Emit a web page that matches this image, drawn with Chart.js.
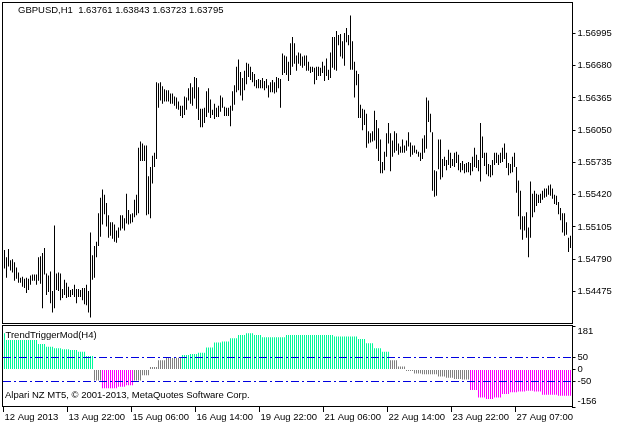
<!DOCTYPE html>
<html>
<head>
<meta charset="utf-8">
<script src="https://cdn.jsdelivr.net/npm/chart.js@4.4.1/dist/chart.umd.min.js"></script>
<style>
  html, body { margin: 0; padding: 0; background: #fff; }
  #wrap { position: relative; width: 621px; height: 423px; }
  #priceChart { position: absolute; left: 0; top: 0; }
  #trendChart { position: absolute; left: 0; top: 324px; }
</style>
</head>
<body>
<div id="wrap">
  <canvas id="priceChart" width="621" height="324"></canvas>
  <canvas id="trendChart" width="621" height="99"></canvas>
</div>
<script>
// GBPUSD H1 bars, left to right (high / low)
var highs = [
  1.5488, 1.5481, 1.5489, 1.5478, 1.5479, 1.5476, 1.5471, 1.5466, 1.5461, 1.5462, 1.5460, 1.5461,
  1.5460, 1.5463, 1.5464, 1.5464, 1.5464, 1.5481, 1.5482, 1.5485, 1.5490, 1.5465, 1.5463, 1.5467,
  1.5448, 1.5512, 1.5465, 1.5466, 1.5465, 1.5450, 1.5459, 1.5456, 1.5452, 1.5449, 1.5450, 1.5454,
  1.5450, 1.5450, 1.5449, 1.5451, 1.5451, 1.5454, 1.5448, 1.5505, 1.5483, 1.5492, 1.5496, 1.5524,
  1.5539, 1.5547, 1.5542, 1.5534, 1.5522, 1.5515, 1.5515, 1.5513, 1.5507, 1.5510, 1.5522, 1.5522,
  1.5519, 1.5543, 1.5527, 1.5523, 1.5524, 1.5537, 1.5542, 1.5588, 1.5594, 1.5592, 1.5590, 1.5590,
  1.5560, 1.5569, 1.5580, 1.5583, 1.5652, 1.5651, 1.5652, 1.5648, 1.5645, 1.5644, 1.5644, 1.5641,
  1.5641, 1.5638, 1.5637, 1.5633, 1.5629, 1.5629, 1.5638, 1.5637, 1.5646, 1.5651, 1.5647,
  1.5657, 1.5656, 1.5647, 1.5626, 1.5626, 1.5627, 1.5643, 1.5646, 1.5635, 1.5625, 1.5631, 1.5627,
  1.5629, 1.5639, 1.5637, 1.5628, 1.5627, 1.5627, 1.5629, 1.5643, 1.5649, 1.5667, 1.5674, 1.5662,
  1.5656, 1.5663, 1.5671, 1.5670, 1.5667, 1.5662, 1.5660, 1.5654, 1.5655, 1.5654, 1.5656, 1.5653,
  1.5655, 1.5649, 1.5652, 1.5654, 1.5652, 1.5657, 1.5656, 1.5655, 1.5680, 1.5678,
  1.5677, 1.5672, 1.5690, 1.5696, 1.5690, 1.5678, 1.5681, 1.5680, 1.5677, 1.5678, 1.5678, 1.5672,
  1.5667, 1.5667, 1.5666, 1.5667, 1.5667, 1.5666, 1.5672, 1.5668, 1.5675, 1.5664, 1.5681, 1.5696,
  1.5696, 1.5702, 1.5698, 1.5699, 1.5692, 1.5700, 1.5705, 1.5698, 1.5717, 1.5692, 1.5672, 1.5663,
  1.5660, 1.5630, 1.5626, 1.5625, 1.5621, 1.5604, 1.5602, 1.5604, 1.5624, 1.5615,
  1.5607, 1.5596, 1.5574, 1.5584, 1.5602, 1.5612, 1.5602, 1.5595, 1.5604, 1.5602, 1.5592, 1.5589,
  1.5596, 1.5590, 1.5595, 1.5603, 1.5593, 1.5590, 1.5590, 1.5586, 1.5584, 1.5583, 1.5597, 1.5600,
  1.5637, 1.5634, 1.5621, 1.5603, 1.5566, 1.5565, 1.5596, 1.5596, 1.5577, 1.5579, 1.5576, 1.5586,
  1.5583, 1.5577, 1.5583, 1.5584, 1.5581, 1.5573, 1.5575, 1.5572,
  1.5573, 1.5574, 1.5573, 1.5579, 1.5588, 1.5581, 1.5576, 1.5612, 1.5599, 1.5583, 1.5583, 1.5572,
  1.5571, 1.5576, 1.5583, 1.5583, 1.5581, 1.5583, 1.5588, 1.5592, 1.5583, 1.5573, 1.5572, 1.5579,
  1.5583, 1.5569, 1.5556, 1.5546, 1.5521, 1.5521, 1.5525, 1.5510, 1.5555, 1.5543, 1.5546, 1.5543,
  1.5542, 1.5543, 1.5546, 1.5548, 1.5548, 1.5551, 1.5552, 1.5548, 1.5542, 1.5541, 1.5535, 1.5529,
  1.5524, 1.5524, 1.5515, 1.5500, 1.5502
];
var lows = [
  1.5470, 1.5461, 1.5472, 1.5468, 1.5466, 1.5458, 1.5460, 1.5456, 1.5456, 1.5452, 1.5451, 1.5446,
  1.5449, 1.5454, 1.5458, 1.5458, 1.5454, 1.5458, 1.5455, 1.5431, 1.5464, 1.5444, 1.5447, 1.5436,
  1.5427, 1.5431, 1.5449, 1.5448, 1.5439, 1.5441, 1.5444, 1.5441, 1.5442, 1.5442, 1.5444, 1.5442,
  1.5436, 1.5442, 1.5442, 1.5439, 1.5435, 1.5434, 1.5427, 1.5422, 1.5459, 1.5461, 1.5481, 1.5492,
  1.5501, 1.5513, 1.5523, 1.5511, 1.5500, 1.5502, 1.5499, 1.5496, 1.5495, 1.5500, 1.5507, 1.5509,
  1.5507, 1.5514, 1.5513, 1.5514, 1.5515, 1.5520, 1.5522, 1.5524, 1.5575, 1.5575, 1.5575, 1.5522,
  1.5523, 1.5519, 1.5553, 1.5569, 1.5577, 1.5627, 1.5634, 1.5631, 1.5633, 1.5633, 1.5633, 1.5631,
  1.5631, 1.5629, 1.5626, 1.5625, 1.5619, 1.5617, 1.5620, 1.5625, 1.5634, 1.5631, 1.5629,
  1.5636, 1.5626, 1.5615, 1.5608, 1.5608, 1.5612, 1.5618, 1.5622, 1.5617, 1.5620, 1.5616, 1.5618,
  1.5618, 1.5623, 1.5627, 1.5619, 1.5619, 1.5619, 1.5609, 1.5624, 1.5630, 1.5642, 1.5644, 1.5639,
  1.5634, 1.5644, 1.5650, 1.5657, 1.5654, 1.5652, 1.5648, 1.5646, 1.5646, 1.5646, 1.5646, 1.5644,
  1.5646, 1.5637, 1.5642, 1.5642, 1.5641, 1.5642, 1.5646, 1.5627, 1.5659, 1.5661,
  1.5659, 1.5653, 1.5659, 1.5667, 1.5670, 1.5663, 1.5670, 1.5668, 1.5666, 1.5668, 1.5663, 1.5663,
  1.5661, 1.5662, 1.5650, 1.5654, 1.5658, 1.5658, 1.5661, 1.5653, 1.5658, 1.5654, 1.5656, 1.5666,
  1.5664, 1.5663, 1.5688, 1.5677, 1.5675, 1.5668, 1.5691, 1.5688, 1.5664, 1.5664, 1.5637, 1.5649,
  1.5617, 1.5617, 1.5605, 1.5610, 1.5588, 1.5592, 1.5593, 1.5594, 1.5595, 1.5587,
  1.5575, 1.5563, 1.5563, 1.5566, 1.5579, 1.5592, 1.5565, 1.5579, 1.5583, 1.5585, 1.5581, 1.5583,
  1.5583, 1.5583, 1.5585, 1.5589, 1.5579, 1.5581, 1.5583, 1.5582, 1.5579, 1.5575, 1.5577, 1.5583,
  1.5587, 1.5613, 1.5603, 1.5546, 1.5540, 1.5541, 1.5567, 1.5557, 1.5559, 1.5570, 1.5566, 1.5571,
  1.5568, 1.5570, 1.5569, 1.5573, 1.5566, 1.5564, 1.5566, 1.5563,
  1.5564, 1.5564, 1.5561, 1.5565, 1.5569, 1.5568, 1.5565, 1.5555, 1.5578, 1.5570, 1.5562, 1.5560,
  1.5559, 1.5561, 1.5571, 1.5573, 1.5571, 1.5573, 1.5574, 1.5577, 1.5568, 1.5561, 1.5563, 1.5564,
  1.5569, 1.5544, 1.5521, 1.5508, 1.5498, 1.5507, 1.5500, 1.5481, 1.5500, 1.5520, 1.5525, 1.5531,
  1.5534, 1.5534, 1.5537, 1.5539, 1.5540, 1.5542, 1.5541, 1.5538, 1.5533, 1.5532, 1.5523, 1.5517,
  1.5505, 1.5502, 1.5503, 1.5486, 1.5490
];

// TrendTriggerMod(H4): one value per H4 block, H1 bar i sits in block floor((i + 3) / 4)
var trendH4 = [
  151, 123, 123, 123, 123, 106, 95, 88, 84, 81, 74, 56,
  -46, -78, -78, -72, -65, -46, -24, 10, 39, 48, 49,
  60, 64, 70, 92, 112, 116, 130, 144, 151, 144, 134, 134, 134,
  144, 144, 144, 144, 144, 144, 137, 137, 137, 127, 109, 88, 74,
  39, 13, -6, -17, -20, -20, -29, -34, -40, -42,
  -85, -116, -123, -116, -102, -95, -91, -88, -91, -105, -105, -109, -109
];

var timeLabels = ['12 Aug 2013', '13 Aug 22:00', '15 Aug 06:00', '16 Aug 14:00', '19 Aug 22:00',
                  '21 Aug 06:00', '22 Aug 14:00', '23 Aug 22:00', '27 Aug 07:00'];
var labelEvery = 32;
var priceTicks = [1.54475, 1.54790, 1.55105, 1.55420, 1.55735, 1.56050, 1.56365, 1.56680, 1.56995];
var trendTicks = [-156, -50, 0, 50, 181];
var trendLevels = [50, -50];

var bullColor = '#00FA9A';
var bearColor = '#FF00FF';
var flatColor = '#808080';

Chart.defaults.font.family = "'Liberation Sans', Arial, sans-serif";
Chart.defaults.font.size = 9.5;
Chart.defaults.color = '#000';
Chart.defaults.animation = false;

var barIndex = highs.map(function (_, i) { return i; });

// axis boxes must not push the plot area around
function fixBox(w, h) {
    return function (s) {
        if (w) s.width = w;
        if (h) s.height = h;
        s.paddingTop = 0; s.paddingBottom = 0; s.paddingLeft = 0; s.paddingRight = 0;
    };
}

// frame, level lines and captions (MT5 style)
var mtPanel = {
    id: 'mtPanel',
    afterDatasetsDraw: function (chart, args, opts) {
        var ctx = chart.ctx, y = chart.scales.y;
        var a = chart.chartArea;
        ctx.save();
        (opts.levels || []).forEach(function (v) {
            var py = Math.floor(y.getPixelForValue(v)) + 0.5;
            ctx.strokeStyle = opts.levelColor;
            ctx.lineWidth = 1;
            ctx.setLineDash([8, 3, 2, 3]);
            ctx.beginPath();
            ctx.moveTo(Math.floor(a.left), py);
            ctx.lineTo(Math.ceil(a.right), py);
            ctx.stroke();
        });
        ctx.restore();
    },
    afterDraw: function (chart, args, opts) {
        var ctx = chart.ctx, a = chart.chartArea;
        ctx.save();
        ctx.strokeStyle = '#000';
        ctx.lineWidth = 1;
        ctx.setLineDash([]);
        var l = Math.floor(a.left) - 0.5, r = Math.ceil(a.right) + 0.5;
        var t = Math.floor(a.top) - 0.5, b = Math.round(a.bottom) + (opts.bottomShift || 0) + 0.5;
        ctx.strokeRect(l, t, r - l, b - t);
        ctx.fillStyle = '#000';
        ctx.font = "9.5px 'Liberation Sans', Arial, sans-serif";
        ctx.textBaseline = 'middle';
        (opts.captions || []).forEach(function (c) {
            ctx.fillText(c.text, a.left + c.dx, c.fromBottom ? a.bottom - c.dy : a.top + c.dy);
        });
        ctx.restore();
    }
};

new Chart(document.getElementById('priceChart'), {
    type: 'bar',
    data: {
        labels: barIndex,
        datasets: [{
            data: lows.map(function (l, i) { return [l, highs[i]]; }),
            backgroundColor: '#000',
            borderWidth: 0,
            inflateAmount: 0,
            barThickness: 1
        }]
    },
    options: {
        responsive: false,
        layout: { padding: { left: 3.5, top: 3, right: 0, bottom: 1 } },
        plugins: {
            legend: { display: false },
            tooltip: { enabled: false },
            mtPanel: {
                captions: [{ text: 'GBPUSD,H1  1.63761 1.63843 1.63723 1.63795', dx: 14.5, dy: 7 }]
            }
        },
        scales: {
            x: { display: false },
            y: {
                position: 'right',
                min: 1.54167,
                max: 1.57293,
                afterBuildTicks: function (s) { s.ticks = priceTicks.map(function (v) { return { value: v }; }); },
                afterFit: fixBox(49.5, 0),
                ticks: { autoSkip: false, padding: 2, callback: function (v) { return v.toFixed(5); } },
                grid: { drawOnChartArea: false, tickLength: 4, color: '#000' },
                border: { display: false }
            }
        }
    },
    plugins: [mtPanel]
});

new Chart(document.getElementById('trendChart'), {
    type: 'bar',
    data: {
        labels: barIndex,
        datasets: [{
            data: barIndex.map(function (i) { return trendH4[Math.floor((i + 3) / 4)]; }),
            backgroundColor: function (c) {
                var v = c.raw;
                return v > trendLevels[0] ? bullColor : (v < trendLevels[1] ? bearColor : flatColor);
            },
            borderWidth: 0,
            inflateAmount: 0,
            barThickness: 1
        }]
    },
    options: {
        responsive: false,
        layout: { padding: { left: 3.5, top: 2, right: 0, bottom: 0 } },
        plugins: {
            legend: { display: false },
            tooltip: { enabled: false },
            mtPanel: {
                levels: trendLevels,
                levelColor: '#0000E0',
                bottomShift: -1,
                captions: [
                    { text: 'TrendTriggerMod(H4)', dx: 2, dy: 9 },
                    { text: 'Alpari NZ MT5, \u00A9 2001-2013, MetaQuotes Software Corp.', dx: 1.5, dy: 12, fromBottom: true }
                ]
            }
        },
        scales: {
            x: {
                afterFit: fixBox(0, 16),
                ticks: {
                    autoSkip: false,
                    maxRotation: 0,
                    minRotation: 0,
                    align: 'start',
                    padding: 0,
                    callback: function (v, i) { return i % labelEvery === 0 ? timeLabels[i / labelEvery] : ''; }
                },
                grid: {
                    drawOnChartArea: false,
                    tickLength: 5,
                    offset: true,
                    color: function (c) { return c.index % labelEvery === 0 ? '#000' : 'rgba(0,0,0,0)'; }
                },
                border: { display: false }
            },
            y: {
                position: 'right',
                min: -156,
                max: 181,
                afterBuildTicks: function (s) { s.ticks = trendTicks.map(function (v) { return { value: v }; }); },
                afterFit: fixBox(49.5, 0),
                ticks: {
                    autoSkip: false,
                    padding: 2,
                    callback: function (v) {
                        if (v === trendTicks[trendTicks.length - 1]) return ['', String(v)];
                        if (v === trendTicks[0]) return [String(v), ''];
                        return String(v);
                    }
                },
                grid: { drawOnChartArea: false, tickLength: 4, color: '#000' },
                border: { display: false }
            }
        }
    },
    plugins: [mtPanel]
});
</script>
</body>
</html>
